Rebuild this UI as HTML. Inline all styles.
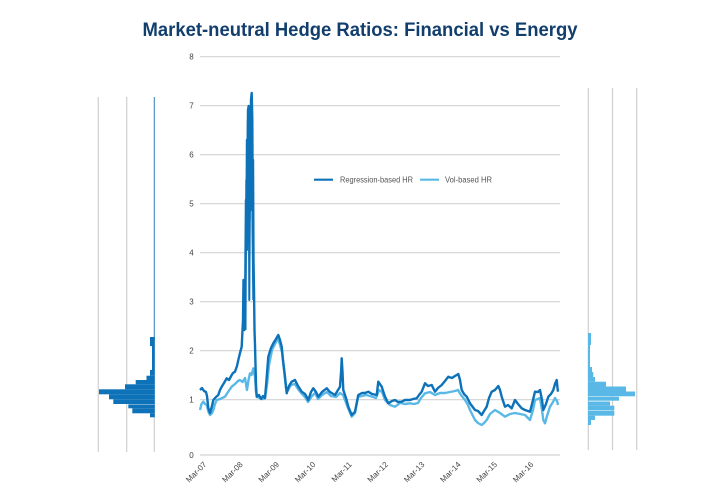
<!DOCTYPE html>
<html>
<head>
<meta charset="utf-8">
<style>
  html,body{margin:0;padding:0;background:#fff;}
  svg{display:block;}
  text{font-family:"Liberation Sans",sans-serif;}
</style>
</head>
<body>
<svg width="720" height="500" viewBox="0 0 720 500" xmlns="http://www.w3.org/2000/svg">
  <rect width="720" height="500" fill="#fff"/>
  <!-- Title -->
  <text x="360" y="36" text-anchor="middle" font-size="19" font-weight="bold" fill="#123e6e" textLength="435" lengthAdjust="spacingAndGlyphs">Market-neutral Hedge Ratios: Financial vs Energy</text>

  <!-- Gridlines -->
  <g stroke="#d2d2d2" stroke-width="1.2">
    <line x1="200" y1="56.7" x2="560" y2="56.7"/>
    <line x1="200" y1="105.7" x2="560" y2="105.7"/>
    <line x1="200" y1="154.7" x2="560" y2="154.7"/>
    <line x1="200" y1="203.7" x2="560" y2="203.7"/>
    <line x1="200" y1="252.7" x2="560" y2="252.7"/>
    <line x1="200" y1="301.7" x2="560" y2="301.7"/>
    <line x1="200" y1="350.7" x2="560" y2="350.7"/>
    <line x1="200" y1="399.7" x2="560" y2="399.7"/>
    <line x1="200" y1="455" x2="560" y2="455"/>
  </g>

  <!-- Y tick labels -->
  <g font-size="8" fill="#444" text-anchor="middle">
    <text x="191.5" y="59.5">8</text>
    <text x="191.5" y="108.5">7</text>
    <text x="191.5" y="157.5">6</text>
    <text x="191.5" y="206.5">5</text>
    <text x="191.5" y="255.5">4</text>
    <text x="191.5" y="304.5">3</text>
    <text x="191.5" y="353.5">2</text>
    <text x="191.5" y="402.5">1</text>
    <text x="191.5" y="458">0</text>
  </g>

  <!-- X tick labels -->
  <g font-size="8" fill="#444" text-anchor="end">
    <text transform="translate(207,465) rotate(-45)">Mar-07</text>
    <text transform="translate(243.3,465) rotate(-45)">Mar-08</text>
    <text transform="translate(279.6,465) rotate(-45)">Mar-09</text>
    <text transform="translate(316,465) rotate(-45)">Mar-10</text>
    <text transform="translate(352.3,465) rotate(-45)">Mar-11</text>
    <text transform="translate(388.6,465) rotate(-45)">Mar-12</text>
    <text transform="translate(425,465) rotate(-45)">Mar-13</text>
    <text transform="translate(461.3,465) rotate(-45)">Mar-14</text>
    <text transform="translate(497.6,465) rotate(-45)">Mar-15</text>
    <text transform="translate(534,465) rotate(-45)">Mar-16</text>
  </g>

  <!-- Left histogram -->
  <g stroke="#cfcfcf" stroke-width="1.2">
    <line x1="98.3" y1="97" x2="98.3" y2="452"/>
    <line x1="126.7" y1="97" x2="126.7" y2="452"/>
    <line x1="154.3" y1="97" x2="154.3" y2="452"/>
  </g>
  <line x1="154.3" y1="97" x2="154.3" y2="340" stroke="#3d8cc6" stroke-width="1"/>
  <g fill="#0d72b8">
    <rect x="150" y="337" width="4.8" height="9"/>
    <rect x="152" y="346" width="2.8" height="24"/>
    <rect x="150" y="370" width="4.8" height="5.7"/>
    <rect x="146.5" y="375.7" width="8.3" height="4.3"/>
    <rect x="135.7" y="380" width="19.1" height="4.3"/>
    <rect x="125" y="384.3" width="29.8" height="5"/>
    <rect x="99" y="389.3" width="55.8" height="5"/>
    <rect x="109" y="394.3" width="45.8" height="5"/>
    <rect x="113.3" y="399.3" width="41.5" height="4.7"/>
    <rect x="128.3" y="404.4" width="26.5" height="3.9"/>
    <rect x="132.3" y="408.3" width="22.5" height="5"/>
    <rect x="150" y="413.3" width="4.8" height="4"/>
  </g>

  <!-- Right histogram -->
  <g stroke="#cfcfcf" stroke-width="1.2">
    <line x1="588.3" y1="88" x2="588.3" y2="450"/>
    <line x1="612.5" y1="88" x2="612.5" y2="450"/>
    <line x1="636.7" y1="88" x2="636.7" y2="450"/>
  </g>
  <g fill="#5ab8e6">
    <rect x="588" y="333" width="3" height="12"/>
    <rect x="588" y="345" width="2" height="22"/>
    <rect x="588" y="367" width="4" height="5"/>
    <rect x="588" y="372" width="5.3" height="5"/>
    <rect x="588" y="377" width="7" height="4.7"/>
    <rect x="588" y="381.7" width="18" height="4.8"/>
    <rect x="588" y="386.5" width="38" height="5"/>
    <rect x="588" y="391.5" width="47" height="4.8"/>
    <rect x="588" y="396.8" width="31" height="3.9"/>
    <rect x="588" y="401.5" width="22" height="4.2"/>
    <rect x="588" y="405.7" width="26.3" height="4.8"/>
    <rect x="588" y="411" width="26.3" height="4.7"/>
    <rect x="588" y="415.7" width="7" height="4.3"/>
    <rect x="588" y="420" width="3" height="5"/>
  </g>

  <!-- Vol-based HR (light) -->
  <polyline fill="none" stroke="#5ab8e6" stroke-width="2.4" stroke-linejoin="round" points="200,410 201.5,404 203.3,401.7 205,404 206.7,405 208.5,412 210,415 212,413 213.3,410 215,404 216.7,400 220,399 225,396.7 228,392 231.7,386.7 235,384 238,381 240,380 242.5,382 245,378 247,390 248.5,380 250,373.3 251.5,375 253.3,368.3 255,376.7 256,392 257,397 260,398 263,399 265,398 267,385 269,365 272,350 275,344 278,338.3 280,345 282,352 284,370 286,388 288,390 291,385 295,384 298,389 302,394 305,397 308,402 312,396 315,393 318,399 322,395 327,392 331,396 336,397 340,393 343,395 345,400 348,408 351.7,416.7 355,413 358,397 362,396 366,395 370,396 376,398 379,390 382,392 385,400 390,405 395,406.7 400,403 405,404 410,403.3 414,404 418,403 421,398 425,393.3 430,392 435,395 440,393 445,393 450,392 455,391 458,390 461,395 465,400 468,405 470,410 473,416 475,420 478,423 481.7,425 484,423 486.7,420 490,414 495,410 500,413 505,416.7 510,414 515,413 520,414 525,415 530,420 533,410 535,400 538,399 540,398 542,410 543.3,420 545,423.3 547,416 550,406.7 553,402 555,398 557,401 558,405"/>

  <!-- Regression-based HR (dark) -->
  <polyline fill="none" stroke="#0d72b8" stroke-width="2.4" stroke-linejoin="round" points="200,390 202,388 204,391 206,392 207,396 208.3,408 210,413 212,406 213.3,400 216,397 218.3,395 220,390 221.7,386.7 224,383 226.7,378.3 229,380 231.7,375 233,373 235,371.7 237,366 238.3,360 240,353 241.7,346.7 243,320 243.5,280 244.3,330 245,318 246,200 246.5,230 247,140 247.5,180 248,110 248.7,106 249,170 249.5,220 250,130 250.5,160 251,100 251.7,93 252.3,120 252.7,200 253,160 253.5,260 254,290 254.5,330 255,345 256,385 256.7,396.7 259,395 261,399 263,396 265,398 266.5,380 268.3,356.7 271,348 273.3,343.3 276,339 278.3,335 280,340 281.7,346.7 283,360 285,376.7 286.7,393.3 289,386 291.7,381.7 295,380 298,386 301.7,391.7 305,394 308.3,400 311,392 313.3,388.3 316,392 318.3,396.7 322,392 326.7,388.3 330,392 335,395 338,390 340,386.7 341.2,370 341.7,358.3 342.5,372 343.3,390 346,398 348.3,406.7 351.7,415 355,411.7 358.3,395 362,393 365,393 368.3,391.7 372,394 376.7,395 378.3,381.7 381.7,386.7 385,396.7 388.3,403.3 392,401 395,400 398,402 401.7,401.7 405,400 410,400 413,399 416.7,398.3 419,395 421.7,391.7 425,383.3 428,386 431.7,385 435,391.7 438,388 441.7,385 445,381 448.3,376.7 452,378 455,376 458.3,374 460,380 461.7,390 464,394 466.7,396.7 470,403.3 472,406 475,410 478,411 481.7,415 484,411 486.7,406.7 489,398 491.7,391.7 495,390 498.3,386 500,390 501.7,396.7 505,406.7 508,405 511.7,408.3 515,400 518,404 521.7,408.3 525,410 530,411.7 532,404 535,391.7 538,392 540,390 542,400 543.3,410 546,404 548.3,396.7 551,394 553.3,390 555,384 556.7,380 557.5,388 558,391.7"/>
  <!-- spike fill thickness -->
  <polyline fill="none" stroke="#0d72b8" stroke-width="2" stroke-linejoin="round" points="245.5,330 246.3,180 247,250 247.8,120 248.6,140 249.3,300 250.2,150 251,210 251.8,110 252.5,230 253.3,300"/>

  <!-- Legend -->
  <line x1="314" y1="179.7" x2="333" y2="179.7" stroke="#0d72b8" stroke-width="2.2"/>
  <text x="340" y="182.5" font-size="8" fill="#555" textLength="73" lengthAdjust="spacingAndGlyphs">Regression-based HR</text>
  <line x1="420" y1="179.7" x2="439" y2="179.7" stroke="#5ab8e6" stroke-width="2.2"/>
  <text x="445" y="182.5" font-size="8" fill="#555" textLength="47" lengthAdjust="spacingAndGlyphs">Vol-based HR</text>
</svg>
</body>
</html>
